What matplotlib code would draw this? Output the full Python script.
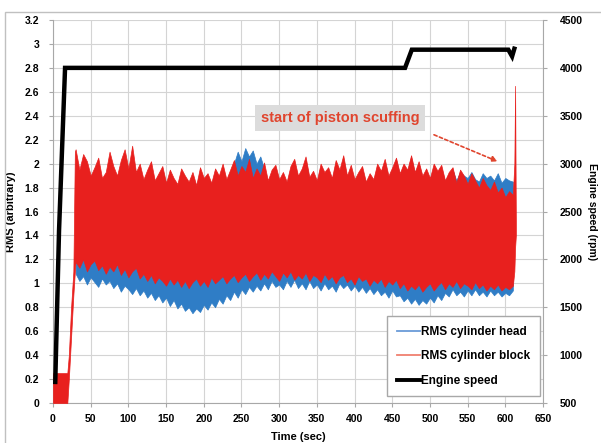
import matplotlib
matplotlib.use("Agg")
import matplotlib.pyplot as plt
from matplotlib.lines import Line2D
from matplotlib.patches import Rectangle

plt.rcParams['font.family'] = ['Liberation Sans', 'DejaVu Sans']

# ---------------- data ----------------
# common sampling grid of the noisy RMS bands (sec): 30, 35, ..., 610
env_t = list(range(30, 611, 5))

# RMS cylinder block (red): lower / upper envelope on env_t (rows of 50 s)
block_lo_main = [
    1.18, 1.13, 1.2, 1.1, 1.16, 1.19, 1.11, 1.15, 1.08, 1.14,
    1.1, 1.16, 1.07, 1.12, 1.05, 1.1, 1.13, 1.04, 1.08, 1.02,
    1.07, 1.0, 1.05, 1.02, 0.98, 1.04, 0.99, 1.03, 0.97, 1.02,
    0.96, 1.01, 1.04, 0.98, 1.02, 0.97, 1.05, 1.0, 1.03, 1.06,
    1.0, 1.04, 1.07, 1.01, 1.05, 1.08, 1.02, 1.06, 1.09, 1.03,
    1.08, 1.04, 1.1, 1.06, 1.02, 1.09, 1.05, 1.1, 1.03, 1.07,
    1.04, 1.09, 1.02, 1.07, 1.05, 1.01, 1.08, 1.03, 1.06, 1.0,
    1.05, 1.07, 1.01, 1.04, 0.99, 1.06, 1.02, 1.04, 0.98, 1.03,
    1.0, 1.04, 0.97, 1.02, 0.99, 1.03, 0.96, 1.0, 0.94, 0.98,
    0.95, 0.99, 0.93, 0.97, 1.0, 0.94, 0.98, 1.01, 0.95, 1.0,
    0.97, 1.02, 0.96, 1.0, 0.98, 0.95, 1.01, 0.96, 0.99, 0.94,
    0.98, 0.95, 0.99, 0.94, 0.97, 0.95, 0.98]
block_hi_main = [
    2.12, 1.95, 2.08, 2.02, 1.9, 1.97, 2.05, 1.88, 1.93, 2.1,
    1.98, 1.9, 2.03, 2.12, 1.96, 2.15, 1.93, 2.0, 1.87, 1.95,
    2.02, 1.86, 1.92, 1.98, 1.84, 1.95, 1.88, 1.83, 1.96, 1.9,
    1.85, 1.93, 1.82, 1.97, 1.88, 1.92, 1.84, 1.96, 1.9, 2.0,
    1.87, 1.95, 2.03, 1.9, 1.98, 1.93, 2.04, 1.88, 1.96, 1.9,
    2.01, 1.86, 1.95, 1.99, 1.87, 1.93, 1.85, 1.98, 2.04, 1.9,
    1.96, 2.06, 1.89, 1.94, 1.86, 2.0, 1.93, 1.97, 1.88, 2.03,
    1.95, 2.07, 1.9, 1.99, 1.87, 1.93, 1.98, 1.85, 1.92, 1.87,
    2.0, 1.94, 2.04, 1.9, 1.97, 2.05, 1.92, 2.0, 1.95, 2.07,
    1.93, 2.02, 1.9, 1.96, 1.88, 2.0, 1.94, 1.99, 1.86, 1.93,
    1.97, 1.84, 1.95, 1.9, 1.83, 1.92, 1.86, 1.8, 1.88, 1.82,
    1.78, 1.85, 1.76, 1.8, 1.72, 1.77, 1.74]
# start-up ramp and final scuffing spike of the block signal
block_start_t = [0, 19, 21, 24, 27, 29]
block_start_lo = [0.0, 0.0, 0.2, 0.55, 0.9, 1.1]
block_start_hi = [0.25, 0.25, 0.4, 0.8, 1.1, 2.1]
block_end_t = [612, 613, 614]
block_end_lo = [1.1, 1.3, 1.4]
block_end_hi = [2.0, 2.65, 1.5]

# RMS cylinder head (blue): lower / upper envelope on env_t (rows of 50 s)
head_lo = [
    1.08, 1.02, 1.06, 0.99, 1.05, 1.01, 0.97, 1.04, 0.99, 1.02,
    0.96, 1.0, 0.93, 0.98, 0.95, 0.91, 0.96, 0.9, 0.94, 0.88,
    0.92, 0.86, 0.9, 0.84, 0.88, 0.81, 0.86, 0.79, 0.83, 0.77,
    0.8, 0.75, 0.79, 0.76, 0.82, 0.78, 0.84, 0.8, 0.87, 0.83,
    0.9, 0.86, 0.93, 0.88, 0.95, 0.91, 0.97, 0.93, 0.98, 0.94,
    1.0, 0.95, 1.02, 0.97, 0.99, 0.95, 1.02, 0.97, 1.03, 0.96,
    1.0, 0.95, 1.02, 0.96, 0.99, 0.94, 1.0, 0.95, 0.98, 0.93,
    1.0, 0.96, 0.99, 0.94, 0.98, 0.93, 0.97, 0.92, 0.96, 0.91,
    0.95, 0.9, 0.93, 0.88, 0.94, 0.89, 0.9, 0.85, 0.88, 0.83,
    0.87, 0.82, 0.86, 0.83, 0.88, 0.84, 0.9, 0.86, 0.92, 0.89,
    0.95, 0.9, 0.93, 0.89, 0.94, 0.9, 0.95, 0.9, 0.93, 0.89,
    0.94, 0.9, 0.93, 0.89, 0.92, 0.9, 0.94]
head_hi = [
    2.0, 1.92, 1.98, 1.95, 1.88, 1.93, 1.98, 1.86, 1.9, 2.02,
    1.95, 1.88, 1.97, 2.05, 1.93, 2.08, 1.9, 1.96, 1.85, 1.92,
    1.97, 1.84, 1.9, 1.95, 1.82, 1.92, 1.86, 1.8, 1.93, 1.87,
    1.82, 1.9, 1.8, 1.94, 1.85, 1.89, 1.82, 1.93, 1.87, 1.97,
    1.85, 1.93, 2.0, 2.1, 2.02, 2.13, 2.06, 2.11, 2.0, 2.06,
    1.96, 1.84, 1.92, 1.96, 1.85, 1.9, 1.83, 1.95, 2.0, 1.88,
    1.94, 2.03, 1.87, 1.92, 1.84, 1.97, 1.9, 1.94, 1.86, 2.0,
    1.92, 2.04, 1.88, 1.96, 1.85, 1.9, 1.95, 1.83, 1.9, 1.85,
    1.97, 1.92, 2.01, 1.88, 1.95, 2.03, 1.9, 1.98, 1.93, 2.05,
    1.91, 2.0, 1.88, 1.94, 1.86, 1.97, 1.92, 1.96, 1.85, 1.91,
    1.95, 1.86, 1.93, 1.9, 1.88, 1.93, 1.87, 1.85, 1.92, 1.88,
    1.9, 1.86, 1.92, 1.84, 1.88, 1.86, 1.85]

# Engine speed (rpm)
eng_t = [3, 8, 16, 467, 476, 604, 609, 612]
eng_rpm = [720, 2300, 4000, 4000, 4190, 4190, 4120, 4200]

x_ticks = list(range(0, 651, 50))
y_ticks = [0, 0.2, 0.4, 0.6, 0.8, 1, 1.2, 1.4, 1.6, 1.8, 2, 2.2, 2.4, 2.6, 2.8, 3, 3.2]
y_tick_labels = ['0', '0.2', '0.4', '0.6', '0.8', '1', '1.2', '1.4', '1.6', '1.8', '2',
                 '2.2', '2.4', '2.6', '2.8', '3', '3.2']
rpm_ticks = [500, 1000, 1500, 2000, 2500, 3000, 3500, 4000, 4500]

BLUE = '#2F7DC6'
RED = '#E8201E'

block_t = block_start_t + env_t + block_end_t
block_lo = block_start_lo + block_lo_main + block_end_lo
block_hi = block_start_hi + block_hi_main + block_end_hi

# ---------------- figure ----------------
fig = plt.figure(figsize=(6.01, 4.43), dpi=100)
ax = fig.add_axes([53/601, 1 - 403/443, (543-53)/601, (403-20)/443])

ax.fill_between(env_t, head_lo, head_hi, color=BLUE, lw=0.5, zorder=2)
ax.fill_between(block_t, block_lo, block_hi, color=RED, lw=0.5, zorder=3)

ax.set_xlim(0, 650)
ax.set_ylim(0, 3.2)
ax.set_xticks(x_ticks)
ax.set_yticks(y_ticks)
ax.set_yticklabels(y_tick_labels)
ax.grid(True, color='#D4D4D4', lw=0.8, zorder=0)
ax.set_axisbelow(True)
for s in ax.spines.values():
    s.set_color('#A8A8A8')
    s.set_linewidth(0.8)
ax.spines['top'].set_visible(False)
ax.tick_params(axis='both', labelsize=7.5, length=3, color='#A8A8A8')
ax.tick_params(axis='y', pad=7)
ax.tick_params(axis='x', pad=5)
for lab in ax.get_xticklabels() + ax.get_yticklabels():
    lab.set_fontweight('bold')
ax.set_xlabel('Time (sec)', fontsize=8, fontweight='bold', labelpad=6)
ax.set_ylabel('RMS (arbitrary)', fontsize=8, fontweight='bold', labelpad=6)

ax2 = ax.twinx()
ax2.plot(eng_t, eng_rpm, color='black', lw=3.2, zorder=5, solid_joinstyle='miter')
ax2.set_ylim(500, 4500)
ax2.set_yticks(rpm_ticks)
ax2.tick_params(axis='y', labelsize=7.5, length=3, color='#A8A8A8', pad=9)
for lab in ax2.get_yticklabels():
    lab.set_fontweight('bold')
for s in ax2.spines.values():
    s.set_visible(False)
ax2.set_ylabel('Engine speed (rpm)', fontsize=7.5, fontweight='bold', rotation=270, labelpad=10)

# annotation
ax.text(381, 2.38, 'start of piston scuffing', color='#E0452E', fontsize=10.5, fontweight='bold',
        ha='center', va='center', zorder=6,
        bbox=dict(boxstyle='square,pad=0.4', fc='#DCDCDC', ec='none'))
ax.annotate('', xy=(593, 2.01), xytext=(502, 2.25),
            arrowprops=dict(arrowstyle='-|>', color='#E0452E', lw=1.2, ls=(0, (2, 1.5)),
                            mutation_scale=8), zorder=6)

# legend
handles = [Line2D([], [], color='#6A9BD8', lw=1.3),
           Line2D([], [], color='#F08070', lw=1.3),
           Line2D([], [], color='black', lw=2.8)]
labels = ['RMS cylinder head', 'RMS cylinder block', 'Engine speed']
leg = ax.legend(handles, labels, loc='lower right', bbox_to_anchor=(0.994, 0.018),
                prop={'size': 8.5, 'weight': 'bold'}, handlelength=2.0, handletextpad=0.1,
                labelspacing=1.05, fancybox=False, framealpha=1, edgecolor='#A8A8A8',
                borderpad=0.8, borderaxespad=0)
leg.set_zorder(10)

# outer chart border
fig.patches.append(Rectangle((5/601, -0.1), 1.2, 1 - 12/443 + 0.1, transform=fig.transFigure,
                             fill=False, ec='#C0C0C0', lw=1.0))

fig.savefig('out.png', dpi=100)
